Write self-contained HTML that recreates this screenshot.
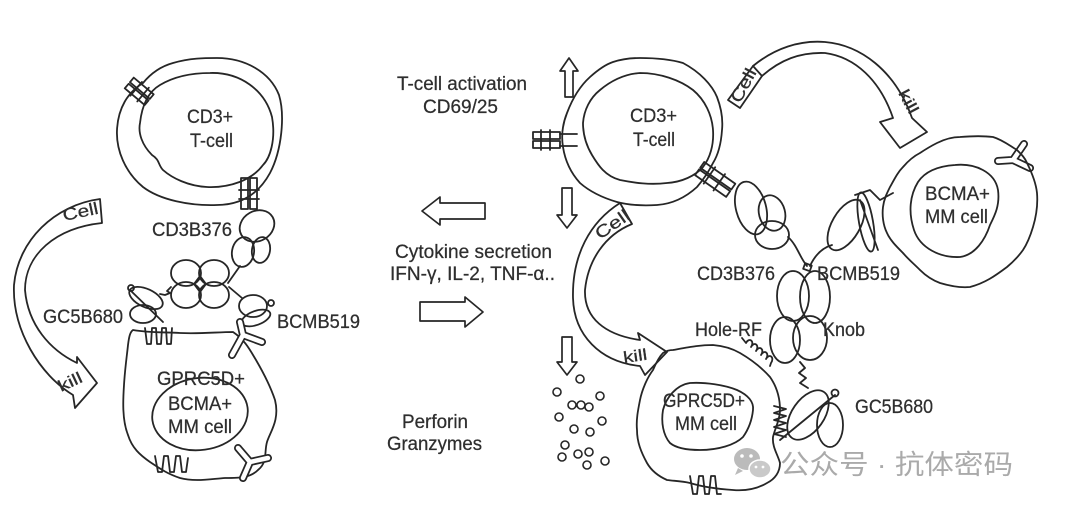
<!DOCTYPE html>
<html><head><meta charset="utf-8"><style>
html,body{margin:0;padding:0;background:#fff;}
svg{display:block;}
text{font-family:"Liberation Sans","Noto Sans CJK SC",sans-serif;fill:#2e2e2e;}
</style></head><body>
<svg width="1080" height="511" viewBox="0 0 1080 511" xmlns="http://www.w3.org/2000/svg">
<rect width="1080" height="511" fill="#fff"/>
<g fill="none" stroke="#262626" stroke-width="1.8" stroke-linejoin="round" stroke-linecap="round">

<!-- ============ LEFT PANEL ============ -->
<path d="M217,58 C245,58 270,72 279,95 C285,115 282,150 270,173 C258,195 240,205 217,205 C190,206 160,200 143,187 C125,172 116,150 117,130 C118,108 128,92 143,83 C152,72 162,66 173,63 C190,58 205,58 217,58 Z"/>
<path d="M210,73 C240,72 265,90 272,117 C276,140 270,158 263,165 C252,180 230,188 207,187 C188,186 172,178 163,170 C158,165 160,160 152,155 C142,145 138,133 140,123 C142,105 148,92 160,85 C175,76 192,73 210,73 Z"/>
<g transform="translate(140,92) rotate(40)">
<rect x="-14" y="-7" width="26" height="6"/><rect x="-14" y="1" width="26" height="6"/>
<line x1="-5" y1="-9" x2="-5" y2="9"/><line x1="4" y1="-9" x2="4" y2="9"/>
</g>
<rect x="241" y="178" width="7" height="31"/><rect x="250" y="178" width="7" height="31"/>
<line x1="239" y1="190" x2="259" y2="190"/><line x1="239" y1="199" x2="259" y2="199"/>
<!-- CD3B376 Fab -->
<ellipse cx="257" cy="226" rx="18" ry="15" transform="rotate(-30 257 226)"/>
<ellipse cx="261" cy="250" rx="9" ry="13" transform="rotate(10 261 250)"/>
<ellipse cx="243" cy="252" rx="11" ry="15" transform="rotate(10 243 252)"/>
<path d="M240,266 L228,283"/>
<!-- Fc -->
<ellipse cx="186" cy="273" rx="15" ry="13"/>
<ellipse cx="214" cy="273" rx="15" ry="13"/>
<ellipse cx="186" cy="295" rx="15" ry="13"/>
<ellipse cx="214" cy="295" rx="15" ry="13"/>
<path d="M200,276 L206,284 L200,292 L194,284 Z"/>
<path d="M229,287 L242,298"/>
<path d="M171,287 L167,291 L170,293 L165,295 L160,294"/>
<ellipse cx="253" cy="306" rx="14" ry="11"/>
<ellipse cx="256" cy="318" rx="15" ry="7" transform="rotate(-20 256 318)"/>
<circle cx="271" cy="303" r="3"/>
<ellipse cx="146" cy="298" rx="18" ry="9" transform="rotate(25 146 298)"/>
<ellipse cx="143" cy="314" rx="13" ry="9"/>
<line x1="130" y1="290" x2="163" y2="322"/>
<circle cx="131" cy="288" r="3"/>
<!-- Left MM cell -->
<path d="M133,330 C150,333 165,332 180,333 C200,334 218,332 233,332 C245,340 250,350 256,360 C263,372 270,385 275,400 C280,420 270,432 267,442 C264,452 268,462 258,470 C250,478 240,478 225,478 C210,479 195,482 180,478 C168,474 162,470 150,462 C140,455 132,448 128,435 C122,420 123,400 124,385 C125,368 127,355 128,345 C129,337 130,332 133,330 Z"/>
<ellipse cx="200" cy="414" rx="48" ry="36" transform="rotate(-8 200 414)"/>
<path d="M145,328 l2,16 l4,0 l1,-16 l4,0 l1,16 l4,0 l1,-16 l4,0 l1,16 l4,0 l1,-16"/>
<path d="M155,456 l3,16 l4,0 l2,-16 l4,0 l2,16 l4,0 l2,-16 l4,0 l2,16 l4,0 l2,-14"/>
<path d="M100,199 C55,205 18,240 14,285 C12,330 40,375 73,395 L75,408 L97,383 L77,357 L77,363 C50,350 28,325 25,290 C25,255 55,228 102,223 Z"/>
</g>
<g fill="none" stroke-linecap="round" stroke-linejoin="round">
<path d="M232,355 L243,335 L240,322 M243,335 L262,342" stroke="#262626" stroke-width="8"/>
<path d="M232,355 L243,335 L240,322 M243,335 L262,342" stroke="#fff" stroke-width="4.5"/>
<path d="M243,478 L250,462 L238,448 M250,462 L268,458" stroke="#262626" stroke-width="8"/>
<path d="M243,478 L250,462 L238,448 M250,462 L268,458" stroke="#fff" stroke-width="4.5"/>
<path d="M998,161 L1013,160 L1024,144 M1013,160 L1030,168" stroke="#262626" stroke-width="8"/>
<path d="M998,161 L1013,160 L1024,144 M1013,160 L1030,168" stroke="#fff" stroke-width="4.5"/>
</g>

<!-- ============ MIDDLE ============ -->
<g fill="#fff" stroke="#262626" stroke-width="1.7" stroke-linejoin="round">
<path d="M569,58 L578,71 L573,71 L573,97 L565,97 L565,71 L560,71 Z"/>
<path d="M562,188 L572,188 L572,215 L577,215 L567,228 L557,215 L562,215 Z"/>
<path d="M422,211 L440,197 L440,203 L485,203 L485,219 L440,219 L440,225 Z"/>
<path d="M420,302 L465,302 L465,297 L483,312 L465,327 L465,321 L420,321 Z"/>
<path d="M562,337 L572,337 L572,362 L577,362 L567,375 L557,362 L562,362 Z"/>
</g>
<g fill="none" stroke="#262626" stroke-width="1.6">
<circle cx="580" cy="379" r="4"/><circle cx="557" cy="392" r="4"/><circle cx="600" cy="396" r="4"/>
<circle cx="572" cy="405" r="4"/><circle cx="581" cy="405" r="4"/><circle cx="589" cy="407" r="4"/>
<circle cx="559" cy="417" r="4"/><circle cx="602" cy="421" r="4"/><circle cx="574" cy="429" r="4"/>
<circle cx="590" cy="432" r="4"/><circle cx="565" cy="445" r="4"/><circle cx="562" cy="457" r="4"/>
<circle cx="578" cy="454" r="4"/><circle cx="589" cy="452" r="4"/><circle cx="605" cy="461" r="4"/>
<circle cx="587" cy="465" r="4"/>
</g>

<!-- ============ RIGHT PANEL ============ -->
<g fill="none" stroke="#262626" stroke-width="1.8" stroke-linejoin="round" stroke-linecap="round">
<path d="M640,58 C660,58 673,60 683,63 C700,72 712,85 717,97 C722,110 723,120 722,130 C721,145 718,155 713,163 C708,173 703,180 697,187 C685,198 672,204 657,205 C640,206 628,205 617,202 C600,197 588,190 580,183 C570,172 565,160 563,147 C561,135 563,123 567,113 C573,97 580,86 590,77 C600,68 607,64 613,62 C622,59 630,58 640,58 Z"/>
<path d="M640,73 C660,73 680,80 693,90 C705,100 712,115 713,130 C714,145 710,158 703,167 C695,176 682,182 667,183 C650,185 635,183 620,180 C605,176 598,165 592,155 C586,145 583,135 583,123 C584,110 590,98 600,90 C612,80 625,74 640,73 Z"/>
<rect x="533" y="132" width="27" height="7"/><rect x="533" y="141" width="27" height="7"/>
<line x1="541" y1="130" x2="541" y2="150"/><line x1="550" y1="130" x2="550" y2="150"/>
<line x1="560" y1="134" x2="577" y2="134"/><line x1="560" y1="146" x2="577" y2="146"/>
<g transform="translate(716,180) rotate(35)">
<rect x="-20" y="-8" width="38" height="7"/><rect x="-20" y="1" width="38" height="7"/>
<line x1="-8" y1="-10" x2="-8" y2="10"/><line x1="4" y1="-10" x2="4" y2="10"/>
</g>
<ellipse cx="751" cy="208" rx="15" ry="27" transform="rotate(-15 751 208)"/>
<ellipse cx="772" cy="213" rx="13" ry="18" transform="rotate(-15 772 213)"/>
<ellipse cx="772" cy="235" rx="17" ry="14"/>
<path d="M788,237 C797,245 800,258 807,266"/>
<rect x="804" y="264" width="7" height="6" transform="rotate(20 807 267)"/>
<path d="M810,266 C815,255 822,248 832,245"/>
<ellipse cx="846" cy="225" rx="14" ry="28" transform="rotate(30 846 225)"/>
<ellipse cx="866" cy="222" rx="7" ry="30" transform="rotate(-10 866 222)"/>
<path d="M855,195 L870,190 L880,200 L893,193"/>
<line x1="860" y1="200" x2="878" y2="250"/>
<ellipse cx="793" cy="296" rx="16" ry="25"/>
<ellipse cx="815" cy="297" rx="15" ry="26"/>
<ellipse cx="785" cy="340" rx="15" ry="23"/>
<ellipse cx="810" cy="338" rx="17" ry="22"/>
<path d="M800,362 L805,368 L799,373 L806,378 L800,383 L808,388"/>
<ellipse cx="808" cy="415" rx="16" ry="28" transform="rotate(35 808 415)"/>
<ellipse cx="830" cy="425" rx="13" ry="22"/>
<circle cx="835" cy="393" r="3.5"/>
<line x1="780" y1="440" x2="835" y2="395"/>
<path d="M937,143 C945,139 952,137 960,137 C972,136 985,136 993,137 C1003,140 1010,146 1017,150 C1022,155 1025,158 1027,163 C1032,173 1036,183 1037,193 C1038,205 1036,217 1033,227 C1030,237 1027,244 1023,250 C1018,257 1013,262 1007,267 C995,276 985,283 970,287 C960,288 950,286 940,283 C932,280 925,275 920,270 C914,264 908,259 903,253 C896,246 890,240 887,233 C883,225 882,215 883,207 C884,199 887,193 890,187 C895,178 898,172 903,167 C909,160 914,156 920,153 C926,149 931,146 937,143 Z"/>
<path d="M955,165 C975,163 995,172 998,190 C1000,205 995,215 990,225 C985,240 975,255 960,257 C940,258 920,248 914,230 C908,212 910,195 918,182 C926,170 940,166 955,165 Z"/>
<path d="M673,350 C690,347 700,345 713,345 C725,346 733,349 740,353 C752,360 762,368 770,377 C777,387 780,398 780,410 C780,420 775,428 773,437 C772,447 778,455 780,463 C780,472 775,479 767,483 C757,489 745,491 733,490 C718,489 703,487 690,483 C682,481 674,481 667,480 C658,476 651,470 647,463 C641,452 637,442 637,430 C636,420 638,410 640,400 C642,390 647,378 653,370 C656,363 659,357 663,353 C666,351 670,350 673,350 Z"/>
<path d="M690,383 C705,382 725,385 737,390 C748,395 754,402 753,410 C752,420 748,430 743,437 C735,445 718,450 700,450 C688,450 676,448 670,443 C663,435 661,422 663,410 C666,398 676,385 690,383 Z"/>
<!-- slanted coil near Hole-RF -->
<path d="M742,338 L746,343 c3,-6 9,-2 5,4 c3,-6 9,-2 5,4 c3,-6 9,-2 5,4 c3,-6 9,-2 5,4 c3,-6 9,-2 5,4 L770,366"/>
<path d="M774,406 l12,3 l-12,4 l12,3 l-12,4 l12,3 l-12,4 l12,3 l-12,4 l12,3"/>
<path d="M690,476 l3,18 l4,0 l2,-18 l4,0 l2,18 l4,0 l2,-18 l4,0 l2,18 l4,0"/>
<path d="M728,100 L753,66 C775,48 800,40 825,42 C860,45 895,70 912,118 L927,132 L900,148 L880,122 L893,118 C880,80 855,57 825,53 C800,52 780,60 762,76 L740,108 Z"/>
<line x1="753" y1="66" x2="762" y2="76"/>
<path d="M620,203 L632,224 C605,235 588,260 585,290 C584,318 605,335 640,340 L638,333 L667,352 L645,375 L640,366 C600,362 574,335 573,298 C572,255 590,222 620,203 Z"/>
</g>

<!-- ============ TEXT ============ -->
<g font-size="19" stroke="#2e2e2e" stroke-width="0.25">
<text x="187" y="123" textLength="46" lengthAdjust="spacingAndGlyphs">CD3+</text>
<text x="190" y="147" textLength="43" lengthAdjust="spacingAndGlyphs">T-cell</text>
<text x="152" y="236" textLength="80" lengthAdjust="spacingAndGlyphs">CD3B376</text>
<text x="43" y="323" textLength="80" lengthAdjust="spacingAndGlyphs">GC5B680</text>
<text x="277" y="328" textLength="83" lengthAdjust="spacingAndGlyphs">BCMB519</text>
<text x="157" y="385" textLength="88" lengthAdjust="spacingAndGlyphs">GPRC5D+</text>
<text x="168" y="410" textLength="64" lengthAdjust="spacingAndGlyphs">BCMA+</text>
<text x="168" y="433" textLength="64" lengthAdjust="spacingAndGlyphs">MM cell</text>
<text x="0" y="0" font-size="17" textLength="36" lengthAdjust="spacingAndGlyphs" transform="translate(64,221) rotate(-12)">Cell</text>
<text x="0" y="0" font-size="16" textLength="25" lengthAdjust="spacingAndGlyphs" transform="translate(61,392) rotate(-25)">kill</text>
<text x="397" y="90" textLength="130" lengthAdjust="spacingAndGlyphs">T-cell activation</text>
<text x="423" y="113" textLength="75" lengthAdjust="spacingAndGlyphs">CD69/25</text>
<text x="395" y="258" textLength="157" lengthAdjust="spacingAndGlyphs">Cytokine secretion</text>
<text x="390" y="280" textLength="165" lengthAdjust="spacingAndGlyphs">IFN-γ, IL-2, TNF-α..</text>
<text x="402" y="428" textLength="66" lengthAdjust="spacingAndGlyphs">Perforin</text>
<text x="387" y="450" textLength="95" lengthAdjust="spacingAndGlyphs">Granzymes</text>
<text x="630" y="122" textLength="47" lengthAdjust="spacingAndGlyphs">CD3+</text>
<text x="633" y="146" textLength="42" lengthAdjust="spacingAndGlyphs">T-cell</text>
<text x="925" y="200" textLength="65" lengthAdjust="spacingAndGlyphs">BCMA+</text>
<text x="925" y="223" textLength="63" lengthAdjust="spacingAndGlyphs">MM cell</text>
<text x="697" y="280" textLength="78" lengthAdjust="spacingAndGlyphs">CD3B376</text>
<text x="817" y="280" textLength="83" lengthAdjust="spacingAndGlyphs">BCMB519</text>
<text x="695" y="336" textLength="67" lengthAdjust="spacingAndGlyphs">Hole-RF</text>
<text x="823" y="336" textLength="42" lengthAdjust="spacingAndGlyphs">Knob</text>
<text x="663" y="407" textLength="82" lengthAdjust="spacingAndGlyphs">GPRC5D+</text>
<text x="675" y="430" textLength="62" lengthAdjust="spacingAndGlyphs">MM cell</text>
<text x="855" y="413" textLength="78" lengthAdjust="spacingAndGlyphs">GC5B680</text>
<text x="0" y="0" font-size="17" textLength="36" lengthAdjust="spacingAndGlyphs" transform="translate(740,104) rotate(-62)">Cell</text>
<text x="0" y="0" font-size="16" textLength="25" lengthAdjust="spacingAndGlyphs" transform="translate(898,93) rotate(62)">kill</text>
<text x="0" y="0" font-size="17" textLength="38" lengthAdjust="spacingAndGlyphs" transform="translate(600,240) rotate(-35)">Cell</text>
<text x="0" y="0" font-size="16" textLength="24" lengthAdjust="spacingAndGlyphs" transform="translate(624,363) rotate(-8)">kill</text>
</g>

<!-- watermark -->
<g fill="#b4b4b4" opacity="0.9">
<ellipse cx="747" cy="459" rx="13" ry="11"/>
<path d="M738,468 l-3,7 l8,-4 Z"/>
<ellipse cx="760" cy="469" rx="11" ry="9" fill="#c4c4c4" stroke="#fff" stroke-width="1.5"/>
<circle cx="742" cy="456" r="1.8" fill="#fff"/><circle cx="751" cy="456" r="1.8" fill="#fff"/>
<circle cx="756" cy="467" r="1.4" fill="#fff"/><circle cx="763" cy="467" r="1.4" fill="#fff"/>
</g>
<text x="780" y="474" font-size="27" style="fill:#aaa" textLength="233" lengthAdjust="spacingAndGlyphs">公众号 · 抗体密码</text>
</svg>
</body></html>
